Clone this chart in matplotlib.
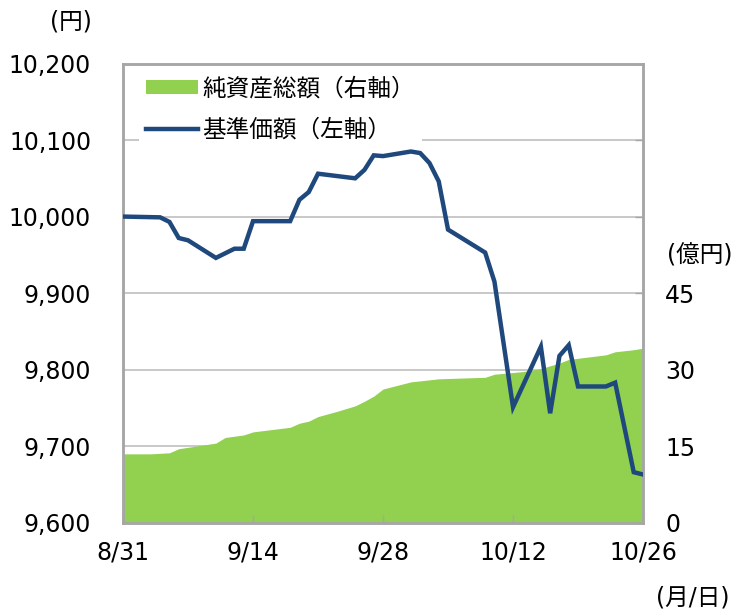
#!/usr/bin/env python3
"""Fund NAV (left axis) and net assets (right axis) chart."""

import matplotlib
matplotlib.use("Agg")
import matplotlib.pyplot as plt
from matplotlib.patches import Patch
from matplotlib.lines import Line2D
import pandas as pd

plt.rcParams["font.family"] = ["DejaVu Sans", "Noto Sans CJK JP"]

# 基準価額 (yen)
nav_dates = [
    "2020-08-31", "2020-09-04", "2020-09-05", "2020-09-06", "2020-09-07",
    "2020-09-10", "2020-09-12", "2020-09-13", "2020-09-14", "2020-09-18",
    "2020-09-19", "2020-09-20", "2020-09-21", "2020-09-25", "2020-09-26",
    "2020-09-27", "2020-09-28", "2020-10-01", "2020-10-02", "2020-10-03",
    "2020-10-04", "2020-10-05", "2020-10-09", "2020-10-10", "2020-10-12",
    "2020-10-15", "2020-10-16", "2020-10-17", "2020-10-18", "2020-10-19",
    "2020-10-22", "2020-10-23", "2020-10-25", "2020-10-26",
]
nav_values = [
    10000, 9999, 9993, 9972, 9969,
    9946, 9958, 9958, 9994, 9994,
    10022, 10032, 10056, 10050, 10061,
    10080, 10079, 10085, 10083, 10070,
    10046, 9983, 9953, 9915, 9751,
    9830, 9743, 9818, 9832, 9778,
    9778, 9783, 9666, 9663,
]

# 純資産総額 (億円)
aum_dates = [
    "2020-08-31", "2020-09-03", "2020-09-05", "2020-09-06", "2020-09-10",
    "2020-09-11", "2020-09-13", "2020-09-14", "2020-09-18", "2020-09-19",
    "2020-09-20", "2020-09-21", "2020-09-23", "2020-09-25", "2020-09-26",
    "2020-09-27", "2020-09-28", "2020-10-01", "2020-10-04", "2020-10-09",
    "2020-10-10", "2020-10-13", "2020-10-15", "2020-10-17", "2020-10-18",
    "2020-10-22", "2020-10-23", "2020-10-25", "2020-10-26",
]
aum_values = [
    13.5, 13.5, 13.7, 14.5, 15.6,
    16.7, 17.2, 17.8, 18.7, 19.5,
    19.9, 20.8, 21.8, 22.9, 23.8,
    24.8, 26.2, 27.6, 28.2, 28.5,
    29.1, 29.6, 30.2, 31.3, 32.0,
    32.9, 33.5, 33.9, 34.2,
]

tick_dates = ["2020-08-31", "2020-09-14", "2020-09-28", "2020-10-12", "2020-10-26"]
left_ticks = [9600, 9700, 9800, 9900, 10000, 10100, 10200]
right_ticks = [0, 15, 30, 45, 60, 75, 90]
right_labels = ["0", "15", "30", "45", "", "", ""]

nav_x = pd.to_datetime(nav_dates)
aum_x = pd.to_datetime(aum_dates)
ticks_x = pd.to_datetime(tick_dates)

LINE = "#1F497D"
GREEN = "#92D050"
SPINE = "#A6A6A6"
GRID = "#BFBFBF"
FS = 17

fig = plt.figure(figsize=(7.42, 6.10), dpi=100)
ax = fig.add_axes([0.1658, 0.1431, 0.7008, 0.7528])
ax2 = ax.twinx()

# area on the right axis, drawn underneath
ax2.fill_between(aum_x, aum_values, 0, color=GREEN, linewidth=0, zorder=1)
ax2.set_ylim(0, 90)
ax2.set_yticks(right_ticks)
ax2.set_yticklabels(right_labels)
ax2.set_axisbelow(True)
ax2.yaxis.grid(True, color=GRID, linewidth=1.2)
ax2.tick_params(axis="y", direction="in", length=6, width=1, color=SPINE,
                labelsize=FS, pad=16)

# line on the left axis, on top
ax.set_zorder(ax2.get_zorder() + 1)
ax.patch.set_visible(False)
ax.plot(nav_x, nav_values, color=LINE, linewidth=3.2, solid_joinstyle="miter",
        zorder=3)
ax.set_ylim(9600, 10200)
ax.set_yticks(left_ticks)
ax.set_yticklabels([f"{v:,}" for v in left_ticks])
ax.tick_params(axis="y", length=0, labelsize=FS, pad=23)

ax.set_xlim(ticks_x[0], ticks_x[-1])
ax.set_xticks(ticks_x)
ax.set_xticklabels([f"{d.month}/{d.day}" for d in ticks_x])
ax.tick_params(axis="x", direction="in", length=6, width=1, color=SPINE,
               labelsize=FS, pad=13)

for a in (ax, ax2):
    for s in a.spines.values():
        s.set_color(SPINE)
        s.set_linewidth(1.8)

handles = [Patch(facecolor=GREEN, edgecolor="none"),
           Line2D([0], [0], color=LINE, linewidth=3.2)]
leg = ax.legend(handles, ["純資産総額（右軸）", "基準価額（左軸）"],
                loc="upper left", bbox_to_anchor=(0.021, 0.997),
                fontsize=FS, frameon=True, facecolor="white", edgecolor="none",
                framealpha=1, fancybox=False, handlelength=2.2,
                handleheight=0.55, handletextpad=0.2, labelspacing=0.72,
                borderpad=0.3, borderaxespad=0.2)
leg.set_zorder(2.5)  # line runs over the legend box like in the original

fig.text(92 / 742, 1 - 21 / 610, "(円)", ha="right", va="center", fontsize=FS)
fig.text(667 / 742, 1 - 255 / 610, "(億円)", ha="left", va="center", fontsize=FS)
fig.text(729 / 742, 1 - 597 / 610, "(月/日)", ha="right", va="center", fontsize=FS)

fig.savefig("out.png", dpi=100)
